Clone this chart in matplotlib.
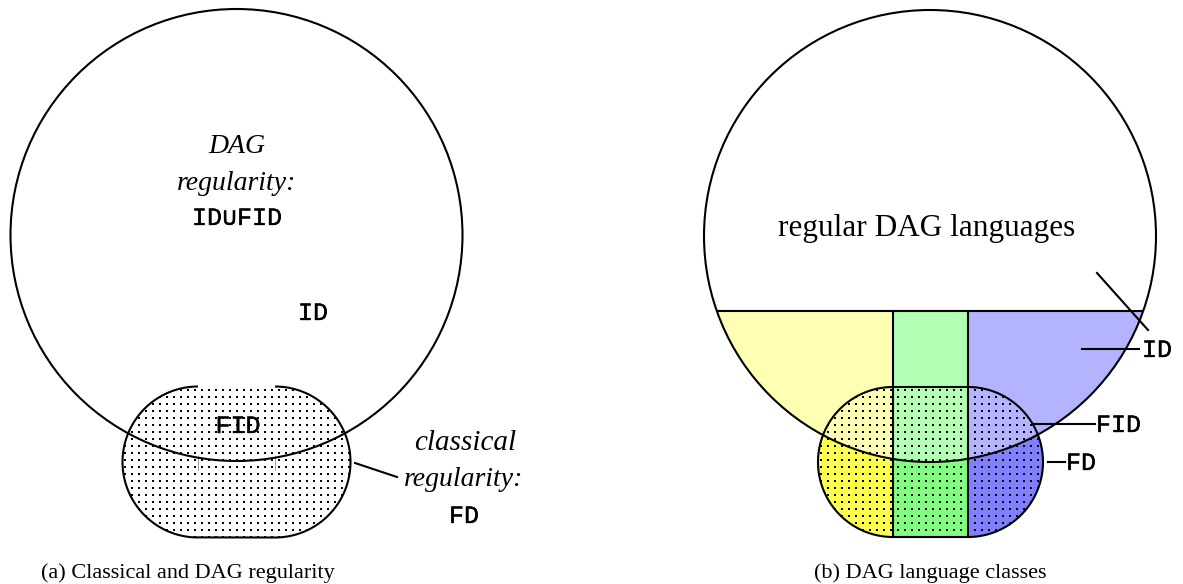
import numpy as np
import matplotlib
matplotlib.use('Agg')
import matplotlib.pyplot as plt
import matplotlib.patheffects as pe
from matplotlib.patches import Circle, Polygon, Rectangle

# ---- content ----
classes = ['ID', 'FID', 'FD']
captions = ['(a) Classical and DAG regularity', '(b) DAG language classes']
left_title = ['DAG', 'regularity:']
left_union = 'ID\u222aFID'
classical_lines = ['classical', 'regularity:']
right_title = 'regular DAG languages'
light_colors = ['#ffffb3', '#b3ffb3', '#b3b3ff']
dark_colors = ['#ffff4d', '#80ff80', '#8080ff']

SERIF = ['Liberation Serif', 'DejaVu Serif']
MONO = ['Liberation Mono', 'DejaVu Sans Mono']
thick = [pe.withStroke(linewidth=0.25, foreground='black')]

W, H = 1183, 584
fig = plt.figure(figsize=(11.83, 5.84), dpi=100)
ax = fig.add_axes([0, 0, 1, 1])
ax.set_xlim(0, W)
ax.set_ylim(H, 0)
ax.axis('off')

LW = 1.5


def stadium_pts(cx, cy, half, r, n=120):
    t = np.linspace(-np.pi / 2, np.pi / 2, n)
    right = np.c_[cx + half + r * np.cos(t), cy + r * np.sin(t)]
    t2 = np.linspace(np.pi / 2, 3 * np.pi / 2, n)
    left = np.c_[cx - half + r * np.cos(t2), cy + r * np.sin(t2)]
    return right, left


def dots(stad_patch, x0, x1, y0, y1, step=7.0):
    xs = np.arange(x0, x1, step)
    ys = np.arange(y0, y1, step)
    X, Y = np.meshgrid(xs, ys)
    sc = ax.scatter(X.ravel(), Y.ravel(), s=2.4, marker='s', c='black',
                    linewidths=0, zorder=3)
    sc.set_clip_path(stad_patch)


def mono(x, y, s, ha='center', z=6):
    ax.text(x, y, s, fontsize=18, family=MONO, ha=ha, va='baseline',
            zorder=z, path_effects=thick)


# ================= left panel =================
Lcx, Lcy, LR = 236.5, 235, 226
Scx, Scy, Shalf, Sr = 236.5, 462, 38.5, 75.5
rgt, lft = stadium_pts(Scx, Scy, Shalf, Sr)
stadL = Polygon(np.vstack([rgt, lft]), closed=True, facecolor='white',
                edgecolor='none', zorder=1)
ax.add_patch(stadL)
dots(stadL, Scx - Shalf - Sr + 3, Scx + Shalf + Sr, Scy - Sr + 3, Scy + Sr)
outline = np.vstack([rgt, lft])
ax.plot(outline[:, 0], outline[:, 1], color='black', lw=LW, zorder=4,
        solid_capstyle='butt')
for xv in (Scx - Shalf, Scx + Shalf):
    ax.plot([xv, xv], [456, 470], color='#777777', lw=0.5, zorder=4)
ax.add_patch(Circle((Lcx, Lcy), LR, facecolor='none', edgecolor='black',
                    lw=LW, zorder=5))
ax.plot([355, 397], [463, 477], color='black', lw=LW, zorder=5)

ax.text(237, 153, left_title[0], fontsize=20, style='italic', family=SERIF,
        ha='center', va='baseline')
ax.text(237, 190, left_title[1], fontsize=20, style='italic', family=SERIF,
        ha='center', va='baseline')
mono(237, 225, left_union)
mono(313, 320, classes[0])
mono(238, 433, classes[1])
ax.text(465, 450, classical_lines[0], fontsize=21, style='italic',
        family=SERIF, ha='center', va='baseline')
ax.text(464, 486, classical_lines[1], fontsize=20, style='italic',
        family=SERIF, ha='center', va='baseline')
mono(464, 523, classes[2])

# ================= right panel =================
Rcx, Rcy, RR = 930, 236, 226
Tcx, Tcy, Thalf, Tr = 930.5, 462, 37.5, 75
line_y = 311
col_edges = [650, Tcx - Thalf, Tcx + Thalf, 1200]

circR = Circle((Rcx, Rcy), RR, facecolor='none', edgecolor='none', zorder=0)
ax.add_patch(circR)
rgt2, lft2 = stadium_pts(Tcx, Tcy, Thalf, Tr)
stadR = Polygon(np.vstack([rgt2, lft2]), closed=True, facecolor='none',
                edgecolor='none', zorder=0)
ax.add_patch(stadR)

for i in range(3):
    x0, x1 = col_edges[i], col_edges[i + 1]
    rd = Rectangle((x0, Tcy - Tr - 5), x1 - x0, 2 * Tr + 10,
                   facecolor=dark_colors[i], edgecolor='none', zorder=1)
    ax.add_patch(rd)
    rd.set_clip_path(stadR)
    rl = Rectangle((x0, line_y), x1 - x0, 300, facecolor=light_colors[i],
                   edgecolor='none', zorder=2)
    ax.add_patch(rl)
    rl.set_clip_path(circR)

dots(stadR, Tcx - Thalf - Tr + 3, Tcx + Thalf + Tr, Tcy - Tr + 3, Tcy + Tr)

ax.add_patch(Circle((Rcx, Rcy), RR, facecolor='none', edgecolor='black',
                    lw=LW, zorder=5))
hl, = ax.plot([600, 1250], [line_y, line_y], color='black', lw=LW, zorder=4)
hl.set_clip_path(circR)
for xv in col_edges[1:3]:
    ax.plot([xv, xv], [line_y, Tcy + Tr], color='black', lw=LW, zorder=4)
ax.add_patch(Polygon(np.vstack([rgt2, lft2]), closed=True, facecolor='none',
                     edgecolor='black', lw=LW, zorder=5))

# leader lines
ax.plot([1097, 1148], [273, 330], color='black', lw=LW, zorder=6)
ax.plot([1082, 1139], [349, 349], color='black', lw=LW, zorder=6)
ax.plot([1033, 1095], [424, 424], color='black', lw=LW, zorder=6)
ax.plot([1048, 1065], [462, 462], color='black', lw=LW, zorder=6)

ax.text(927, 236, right_title, fontsize=22.5, family=SERIF, ha='center',
        va='baseline')
mono(1142, 357, classes[0], ha='left')
mono(1096, 432, classes[1], ha='left')
mono(1066, 470, classes[2], ha='left')

# captions
ax.text(188, 578, captions[0], fontsize=16, family=SERIF, ha='center',
        va='baseline')
ax.text(930, 578, captions[1], fontsize=16, family=SERIF, ha='center',
        va='baseline')

fig.savefig('out.png', dpi=100)
